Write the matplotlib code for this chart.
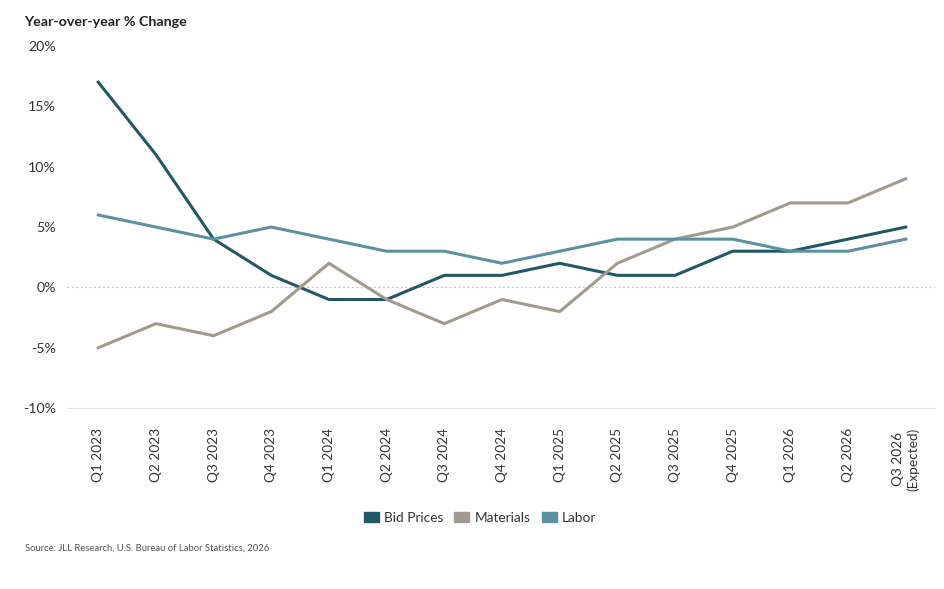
import matplotlib
matplotlib.use("Agg")
import matplotlib.pyplot as plt
from matplotlib.patches import Patch

plt.rcParams['font.family'] = ['Lato', 'DejaVu Sans']

categories = ["Q1 2023", "Q2 2023", "Q3 2023", "Q4 2023", "Q1 2024", "Q2 2024",
              "Q3 2024", "Q4 2024", "Q1 2025", "Q2 2025", "Q3 2025", "Q4 2025",
              "Q1 2026", "Q2 2026", "Q3 2026\n(Expected)"]
bid_prices = [17, 11, 4, 1, -1, -1, 1, 1, 2, 1, 1, 3, 3, 4, 5]
materials = [-5, -3, -4, -2, 2, -1, -3, -1, -2, 2, 4, 5, 7, 7, 9]
labor = [6, 5, 4, 5, 4, 3, 3, 2, 3, 4, 4, 4, 3, 3, 4]
yticks = [-10, -5, 0, 5, 10, 15, 20]

c_bid = "#215867"
c_mat = "#a39a8e"
c_lab = "#5c91a2"

fig = plt.figure(figsize=(9.45, 5.89), dpi=100)
ax = fig.add_axes([0.071, 0.307, 0.918, 0.615])

x = list(range(len(categories)))
ax.plot(x, bid_prices, color=c_bid, lw=2.2, zorder=3)
ax.plot(x, materials, color=c_mat, lw=2.2, zorder=3)
ax.plot(x, labor, color=c_lab, lw=2.2, zorder=3)

ax.axhline(0, color="#bbbbbb", lw=0.8, ls=(0, (1.5, 2.5)), zorder=1)
ax.set_xlim(-0.54, 14.5)
ax.set_ylim(-10, 20)
ax.set_yticks(yticks)
ax.set_yticklabels([f"{v}%" for v in yticks], fontsize=10.2, color="#333333")
ax.set_xticks(x)
ax.set_xticklabels(categories, rotation=90, fontsize=9.8, color="#333333",
                   va="top", ha="center", linespacing=1.25)
ax.tick_params(axis="both", length=0, pad=8)
ax.tick_params(axis="x", pad=14)
for s in ["top", "right", "left"]:
    ax.spines[s].set_visible(False)
ax.spines["bottom"].set_color("#e6e6e6")
ax.spines["bottom"].set_linewidth(0.8)

fig.text(0.026, 0.962, "Year-over-year % Change", fontsize=10.3, fontweight="bold",
         color="#222222", ha="left", va="center")

handles = [Patch(color=c_bid, label="Bid Prices"),
           Patch(color=c_mat, label="Materials"),
           Patch(color=c_lab, label="Labor")]
fig.legend(handles=handles, loc="center", bbox_to_anchor=(0.508, 0.121), ncol=3,
           frameon=False, fontsize=9.8, handlelength=1.1, handleheight=0.7,
           handletextpad=0.4, columnspacing=0.8, labelcolor="#333333")

fig.text(0.026, 0.069, "Source: JLL Research, U.S. Bureau of Labor Statistics, 2026",
         fontsize=6.8, color="#555555", ha="left", va="center")

fig.savefig("out.png", dpi=100)
